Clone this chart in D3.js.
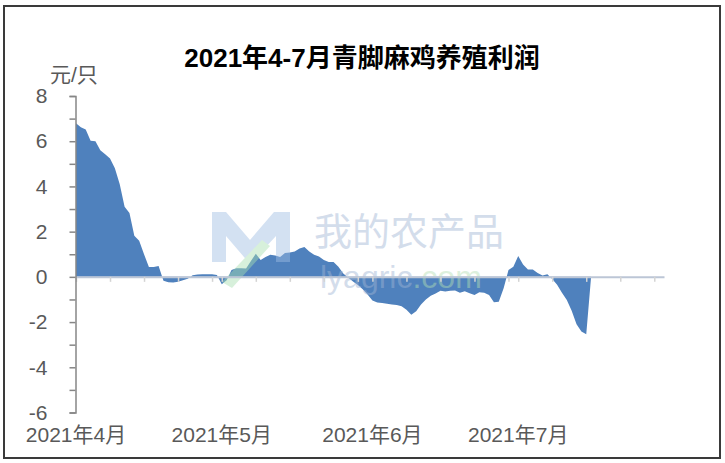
<!DOCTYPE html>
<html>
<head>
<meta charset="utf-8">
<script src="https://cdn.jsdelivr.net/npm/d3@7"></script>
<style>
  body { margin: 0; background: #fff; }
  svg text { font-family: "Liberation Sans", "Noto Sans CJK SC", sans-serif; }
</style>
</head>
<body>
<svg id="chart" width="725" height="463"></svg>
<script>
// daily profit, yuan per bird, starting 2021-04-01
const START_DATE = "2021-04-01";
const PROFIT = [
  6.79, 6.62, 6.52, 6.02, 6.0, 5.6, 5.42, 5.24, 4.8, 4.1,
  3.1, 2.83, 1.82, 1.6, 1.0, 0.44, 0.44, 0.48, -0.17, -0.24,
  -0.25, -0.22, -0.15, -0.08, 0.07, 0.1, 0.11, 0.12, 0.11, 0.08,
  -0.33, -0.15, 0.3, 0.38, 0.38, 0.37, 0.7, 1.02, 0.75, 0.88,
  0.98, 0.95, 0.88, 1.05, 1.08, 1.12, 1.25, 1.32, 1.12, 0.98,
  0.9, 0.75, 0.66, 0.66, 0.45, 0.15, -0.03, -0.2, -0.36, -0.55,
  -0.78, -1.05, -1.13, -1.16, -1.19, -1.22, -1.24, -1.3, -1.45, -1.68,
  -1.52, -1.22, -1.0, -0.84, -0.74, -0.62, -0.65, -0.62, -0.6, -0.7,
  -0.64, -0.73, -0.8, -0.68, -0.7, -0.8, -1.12, -1.1, -0.5, 0.3,
  0.45, 0.92, 0.55, 0.33, 0.33, 0.17, 0.06, 0.12, -0.1, -0.35,
  -0.7, -1.02, -1.5, -2.1, -2.42, -2.54, 0
];
const MONTH_LABELS = ["2021年4月", "2021年5月", "2021年6月", "2021年7月"];
const MONTH_STARTS = ["2021-04-01", "2021-05-01", "2021-06-01", "2021-07-01"];
const AXIS_RANGE = ["2021-04-01", "2021-07-31"];
const Y_TICKS = [-6, -5, -4, -3, -2, -1, 0, 1, 2, 3, 4, 5, 6, 7, 8];

const parse = d3.utcParse("%Y-%m-%d");
const start = parse(START_DATE);
const data = PROFIT.map((v, i) => ({ date: d3.utcDay.offset(start, i), value: v }));

const svg = d3.select("#chart");

// outer frame
svg.append("rect")
  .attr("x", 4).attr("y", 6)
  .attr("width", 716).attr("height", 452)
  .attr("fill", "#fff")
  .attr("stroke", "#3a3a3a")
  .attr("stroke-width", 2);

const x = d3.scaleUtc()
  .domain(AXIS_RANGE.map(parse))
  .range([76, 664]);
const y = d3.scaleLinear().domain([-6, 8]).range([412.5, 96]);

// area
const area = d3.area()
  .x((d) => x(d.date))
  .y0(y(0))
  .y1((d) => y(d.value));

svg.append("path")
  .datum(data)
  .attr("fill", "#4f81bd")
  .attr("d", area);

// watermark
const wm = svg.append("g").attr("opacity", 0.45);
wm.append("path")
  .attr("d", "M212,212 L226,212 L250,240 L274,212 L290,212 L290,262 L276,262 L276,236 L250,264 L226,236 L226,262 L212,262 Z")
  .attr("fill", "#9fbde3");
wm.append("path")
  .attr("d", "M222,282 L262,240 L270,246 L232,288 Z")
  .attr("fill", "#a8e0b0");
wm.append("text")
  .attr("x", 314).attr("y", 245)
  .attr("font-size", 38)
  .attr("fill", "#9fb4d4")
  .text("我的农产品");
wm.append("text")
  .attr("x", 320).attr("y", 288)
  .attr("font-size", 32)
  .attr("fill", "#9fb4d4")
  .text("lyagric")
  .append("tspan")
  .attr("fill", "#b4e0b4")
  .text(".com");

// x axis on the zero line, weekly ticks
const weekTicks = d3.utcDay.every(7).range(x.domain()[0], d3.utcDay.offset(x.domain()[1], 1));
const xAxis = d3.axisBottom(x).tickValues(weekTicks).tickFormat("").tickSize(5).tickSizeOuter(0);
const xAxisG = svg.append("g")
  .attr("transform", `translate(0, ${y(0)})`)
  .call(xAxis);
xAxisG.select(".domain").attr("stroke", "#bcc6d6").attr("stroke-width", 2);
xAxisG.selectAll(".tick line").attr("stroke", "#d4d4d4").attr("stroke-width", 1.5);

// y axis
const yAxis = d3.axisLeft(y)
  .tickValues(Y_TICKS)
  .tickSize(6)
  .tickSizeOuter(6)
  .tickPadding(22)
  .tickFormat((d) => (d % 2 === 0 ? d : ""));
const yAxisG = svg.append("g")
  .attr("transform", "translate(75.5, 0)")
  .call(yAxis);
yAxisG.select(".domain").attr("stroke", "#868686").attr("stroke-width", 1.5);
yAxisG.selectAll(".tick line").attr("stroke", "#868686").attr("stroke-width", 1.5);
yAxisG.selectAll(".tick text")
  .attr("font-size", 21)
  .attr("font-family", "'Liberation Sans', sans-serif")
  .attr("fill", "#595959");

// month labels along the bottom
svg.append("g")
  .selectAll("text")
  .data(MONTH_LABELS)
  .join("text")
  .attr("x", (d, i) => x(parse(MONTH_STARTS[i])))
  .attr("y", 442)
  .attr("text-anchor", "middle")
  .attr("font-size", 21)
  .attr("fill", "#595959")
  .text((d) => d);

// unit label
svg.append("text")
  .attr("x", 50).attr("y", 82)
  .attr("font-size", 21)
  .attr("fill", "#595959")
  .text("元/只");

// title
svg.append("text")
  .attr("x", 362).attr("y", 67)
  .attr("text-anchor", "middle")
  .attr("font-size", 26)
  .attr("font-weight", "bold")
  .attr("fill", "#000")
  .text("2021年4-7月青脚麻鸡养殖利润");
</script>
</body>
</html>
